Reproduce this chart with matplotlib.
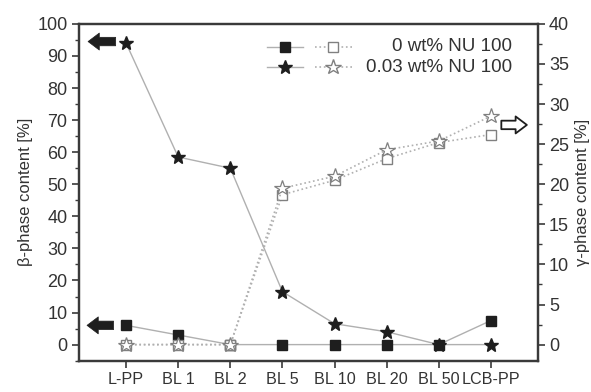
import matplotlib
matplotlib.use("Agg")
import matplotlib.pyplot as plt
from matplotlib.ticker import MultipleLocator

plt.rcParams['font.family'] = ['Liberation Sans', 'DejaVu Sans']

samples = ['L-PP', 'BL 1', 'BL 2', 'BL 5', 'BL 10', 'BL 20', 'BL 50', 'LCB-PP']

# beta-phase content [%] (left axis)
beta_0 = [6, 3, 0, 0, 0, 0, 0, 7.5]
beta_003 = [94, 58.5, 55, 16.5, 6.5, 4, 0, 0]

# gamma-phase content [%] (right axis)
gamma_0 = [0, 0, 0, 18.7, 20.5, 23.2, 25.2, 26.2]
gamma_003 = [0, 0, 0, 19.5, 21.0, 24.3, 25.4, 28.5]

labels = ['0 wt% NU 100', '0.03 wt% NU 100']

dark = '#1e1e1e'
gray = '#b0b0b0'
txt = '#333333'

fig = plt.figure(figsize=(5.91, 3.92), dpi=100)
ax = fig.add_axes([0.134, 0.080, 0.776, 0.859])
ax2 = ax.twinx()

x = list(range(len(samples)))

ax.plot(x, beta_0, '-', color=gray, lw=1.0, marker='s', ms=7.5,
        mfc=dark, mec=dark, zorder=3)
ax.plot(x, beta_003, '-', color=gray, lw=1.0, marker='*', ms=10.5,
        mfc=dark, mec=dark, zorder=3)
ax2.plot(x, gamma_0, ':', color=gray, lw=1.2, marker='s', ms=7.5,
         mfc='white', mec='#808080', mew=1.0, zorder=3)
ax2.plot(x, gamma_003, ':', color=gray, lw=1.2, marker='*', ms=11.5,
         mfc='white', mec='#808080', mew=0.9, zorder=3)

ax.set_xlim(-0.9, 7.9)
ax.set_ylim(-5, 100)
ax2.set_ylim(-2, 40)

ax.set_xticks(x)
ax.set_xticklabels(samples)
ax.yaxis.set_minor_locator(MultipleLocator(5))
ax2.yaxis.set_minor_locator(MultipleLocator(2.5))
ax.set_yticks(range(0, 101, 10))
ax2.set_yticks(range(0, 41, 5))

for a in (ax, ax2):
    for s in a.spines.values():
        s.set_color('#3a3a3a')
        s.set_linewidth(1.6)
    a.tick_params(which='major', length=5, width=1.2, color='#3a3a3a',
                  labelsize=13, labelcolor=txt, direction='out')
    a.tick_params(which='minor', length=3, width=1.0, color='#3a3a3a',
                  direction='out')
ax.tick_params(axis='x', which='minor', bottom=False)
ax.tick_params(axis='x', pad=3, labelsize=11.6)
ax2.tick_params(axis='y', pad=3)

ax.set_ylabel('β-phase content [%]', fontsize=12, color=txt, labelpad=3)
ax2.set_ylabel('γ-phase content [%]', fontsize=12, color=txt, labelpad=4)

# direction arrows
style = 'simple,head_length=0.45,head_width=0.68,tail_width=0.34'
arrow_kw = dict(arrowstyle=style, mutation_scale=18, fc=dark, ec=dark, lw=0.5,
                shrinkA=0, shrinkB=0)
ax.annotate('', xy=(-0.73, 94.5), xytext=(-0.2, 94.5), arrowprops=arrow_kw)
ax.annotate('', xy=(-0.75, 6), xytext=(-0.24, 6), arrowprops=arrow_kw)
open_kw = dict(arrowstyle=style, mutation_scale=18, fc='white', ec=dark,
               lw=1.3, shrinkA=0, shrinkB=0)
ax2.annotate('', xy=(7.69, 27.4), xytext=(7.2, 27.4), arrowprops=open_kw)

# legend drawn by hand (two handles per row, right-aligned text)
legend_rows = [(0.932, 's', 7.5, 7.5), (0.872, '*', 10.5, 11.5)]
for (yy, m, ms_f, ms_o), lab in zip(legend_rows, labels):
    ax.plot([0.41, 0.488], [yy, yy], '-', color=gray, lw=1.0,
            transform=ax.transAxes, clip_on=False)
    ax.plot([0.449], [yy], marker=m, ms=ms_f, mfc=dark, mec=dark,
            transform=ax.transAxes, clip_on=False)
    ax.plot([0.514, 0.595], [yy, yy], ':', color=gray, lw=1.2,
            transform=ax.transAxes, clip_on=False)
    ax.plot([0.553], [yy], marker=m, ms=ms_o, mfc='white', mec='#808080',
            transform=ax.transAxes, clip_on=False)
    ax.text(0.943, yy, lab, transform=ax.transAxes, ha='right', va='center',
            fontsize=13.5, color=txt)

fig.savefig('out.png', dpi=100)
